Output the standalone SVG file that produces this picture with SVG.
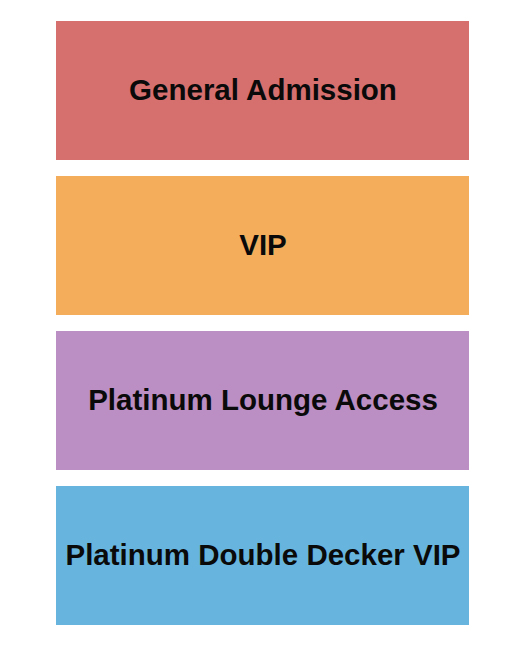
<svg xmlns="http://www.w3.org/2000/svg" width="525" height="650" viewBox="0 0 525 650">
<style>
.sec rect{stroke:none}
.sec text{font-family:"Liberation Sans",Arial,sans-serif;font-weight:bold;font-size:29.5px;fill:#0a0a0a;text-anchor:middle}
</style>
<rect width="525" height="650" fill="#fff"/>
<g id="general-admission" class="sec"><rect x="56" y="21" width="413" height="139" fill="#D6706F"/><text x="263" y="100">General Admission</text></g>
<g id="vip" class="sec"><rect x="56" y="176" width="413" height="139" fill="#F4AD5B"/><text x="263" y="255">VIP</text></g>
<g id="platinum-lounge-access" class="sec"><rect x="56" y="331" width="413" height="139" fill="#BB8FC3"/><text x="263" y="410">Platinum Lounge Access</text></g>
<g id="platinum-double-decker-vip" class="sec"><rect x="56" y="486" width="413" height="139" fill="#67B5DE"/><text x="263" y="565">Platinum Double Decker VIP</text></g>
<g id="connectors"/>
</svg>
